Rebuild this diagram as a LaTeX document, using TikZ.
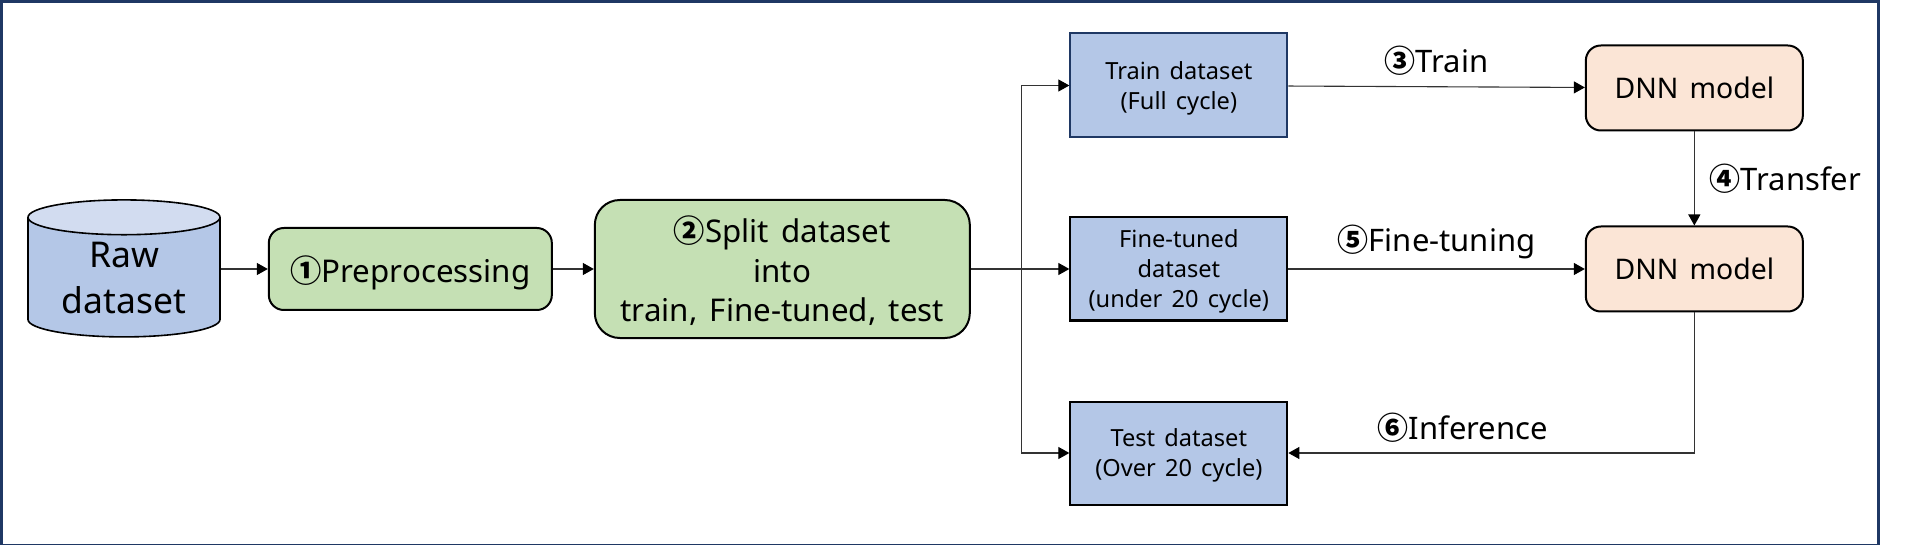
\documentclass[tikz,border=0pt]{standalone}
\usepackage{fontspec}
\setmainfont[WordSpace=1.5]{Noto Sans}
\newfontfamily\circfont{Noto Sans CJK KR}
\usetikzlibrary{arrows.meta,positioning,shapes.geometric}
\definecolor{frameblue}{HTML}{1F3864}
\definecolor{boxblue}{HTML}{B4C7E7}
\definecolor{lidblue}{HTML}{D2DCF0}
\definecolor{boxgreen}{HTML}{C5E0B4}
\definecolor{boxorange}{HTML}{FBE5D6}
\newcommand{\circno}[1]{{\circfont\bfseries #1}}
\tikzset{
  %Define standard arrow tip
  >={Triangle[length=11pt,width=12pt,color=black]},
  %Define style for boxes
  outline/.style={
    rectangle,
    draw=frameblue,
    line width=2.6pt,
    anchor=north west,
    inner sep=0pt,
    minimum width=1877pt,
    minimum height=544pt},
  store/.style={
    cylinder,
    shape border rotate=90,
    aspect=0.28,
    draw=black, line width=1.6pt,
    cylinder uses custom fill,
    cylinder body fill=boxblue,
    cylinder end fill=lidblue,
    minimum width=192pt,
    minimum height=137pt,
    align=center,
    inner sep=0pt,
    text depth=-4pt,
    font=\fontsize{35.5}{46}\selectfont},
  step box/.style={
    rectangle,
    rounded corners=#1,
    draw=black, line width=2pt,
    fill=boxgreen,
    align=center,
    inner sep=0pt,
    text depth=0pt,
    font=\fontsize{31.3}{39.5}\selectfont},
  data box/.style={
    rectangle,
    draw=black, line width=2pt,
    fill=boxblue,
    minimum width=217pt,
    minimum height=103pt,
    align=center,
    inner sep=0pt,
    text depth=-5pt,
    font=\fontsize{23.6}{30}\selectfont},
  model box/.style={
    rectangle,
    rounded corners=15pt,
    draw=black, line width=2pt,
    fill=boxorange,
    minimum width=217pt,
    minimum height=85pt,
    inner sep=0pt,
    font=\fontsize{28.4}{32}\selectfont},
  tag/.style={
    text=black,
    font=\fontsize{31}{36}\selectfont,
    inner sep=0pt},
  % Define arrow style
  pil/.style={
    ->,
    black!80,
    line width=1.1pt}
}
\begin{document}
\begin{tikzpicture}[x=1pt,y=1pt]
  \useasboundingbox (0,0) rectangle (1910,-544);
  \node[outline] (border) at (0,0) {};
  % left part
  \node[store] (raw) at (124,-277.5) {Raw\\dataset};
  \node[step box=15pt,minimum width=283pt,minimum height=82pt,right=47pt of raw,yshift=8.5pt] (prep) {\circno{①}Preprocessing};
  \node[step box=25pt,minimum width=375pt,minimum height=138pt,right=41pt of prep] (split) {\circno{②}Split dataset\\into\\train, Fine-tuned, test};
  \coordinate[right=51pt of split] (branch);
  % datasets
  \node[data box,right=98.5pt of split,text depth=-9pt] (fine) {Fine-tuned\\dataset\\(under 20 cycle)};
  \node[data box,above=78pt of fine,draw=frameblue,minimum height=104pt] (train) {Train dataset\\(Full cycle)};
  \node[data box,below=79pt of fine,text depth=-7pt] (test) {Test dataset\\(Over 20 cycle)};
  % models
  \node[model box,right=296.5pt of fine] (tuned) {DNN model};
  \node[model box,above=94pt of tuned] (base) {DNN model};
  % connectors
  \draw[pil] (raw.east |- prep) -- (prep);
  \draw[pil] (prep) -- (split);
  \draw[pil] (split) -- (fine);
  \draw[pil] (branch) |- (train);
  \draw[pil] (branch) |- (test);
  \draw[pil] (train) -- node[tag,above=11pt] (trainlabel) {\circno{③}Train} (base);
  \draw[pil] (base) -- node[tag,right=15pt] (transferlabel) {\circno{④}Transfer} (tuned);
  \draw[pil] (fine) -- node[tag,above=10pt] (tuninglabel) {\circno{⑤}Fine-tuning} (tuned);
  \draw[pil] (tuned) |- node[tag,pos=.785,above=10pt] (inferlabel) {\circno{⑥}Inference} (test);
\end{tikzpicture}
\end{document}
